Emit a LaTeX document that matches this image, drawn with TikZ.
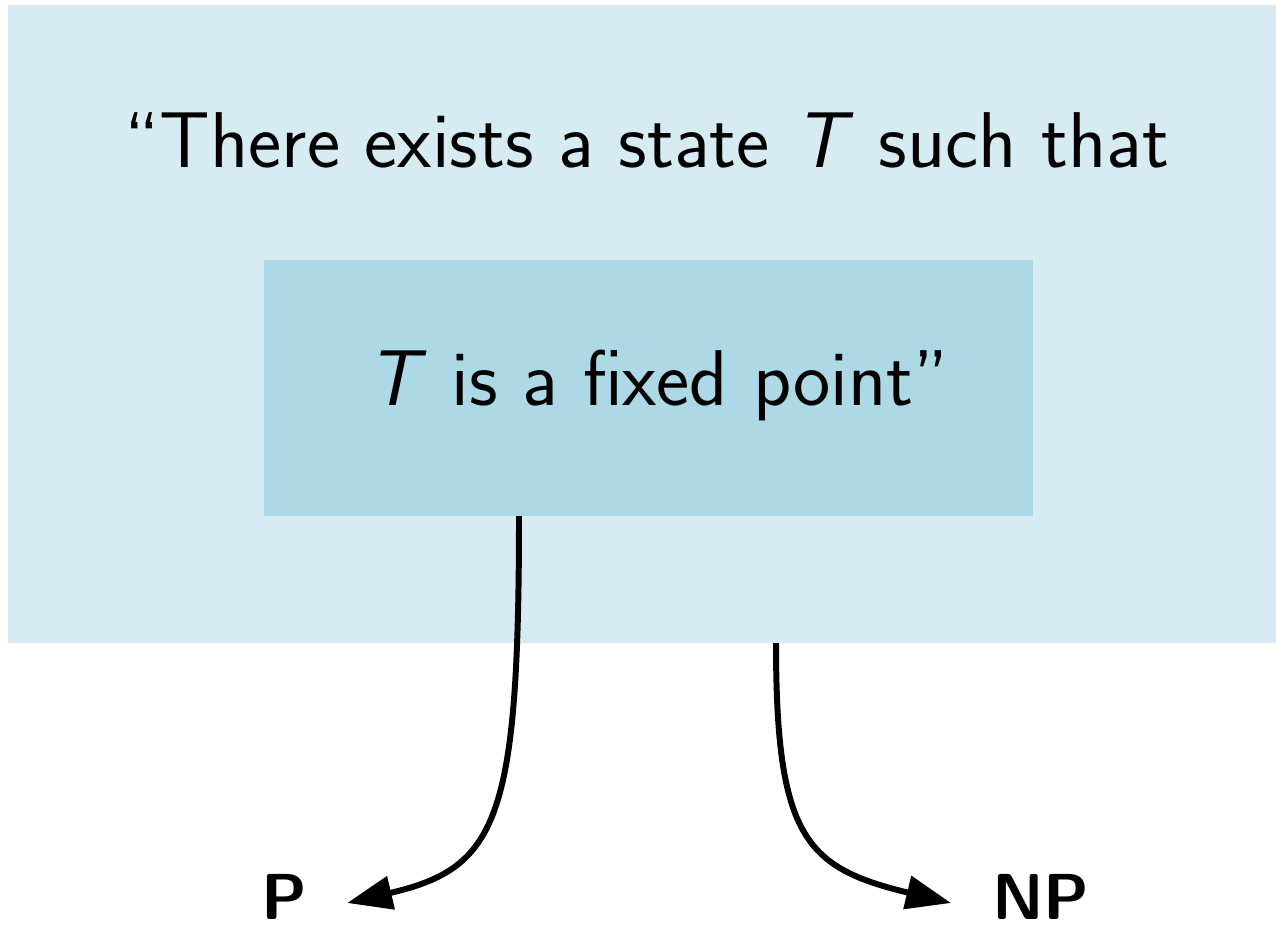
\documentclass[tikz,border=0pt]{standalone}
\usetikzlibrary{calc, positioning, arrows.meta}
\definecolor{boxOuter}{RGB}{214, 235, 242}
\definecolor{boxInner}{RGB}{173, 216, 230}

\begin{document}
\begin{tikzpicture}[
  region/.style={inner sep=0pt, outer sep=0pt},
  claim/.style={font=\sffamily\fontsize{45}{52}\selectfont},
  cls/.style={font=\sffamily\bfseries\fontsize{37}{44}\selectfont, inner sep=0pt},
  link/.style={-{Triangle[length=0.9cm, width=0.66cm]}, line width=3.4pt},
]
  \useasboundingbox (0,0) rectangle (25.52,18.52);

  % boxes
  \node[region, fill=boxOuter, minimum width=25.36cm, minimum height=12.76cm]
    (outer) at (12.84, 12.04) {};
  \node[region, fill=boxInner, minimum width=15.38cm, minimum height=5.12cm]
    (inner) at (12.96, 10.76) {};

  % texts
  \node[claim] (exists) at (12.94, 15.72) {``There exists a state \textit{T} such that};
  \node[claim] (fixed) at (13.16, 10.82) {\textit{T} is a fixed point''};

  % classes
  \node[cls] (p) at (5.68, 0.58) {P};
  \node[cls] (np) at (20.82, 0.58) {NP};

  \coordinate (from p) at ($(inner.south)+(-2.58,0)$);
  \coordinate (from np) at ($(outer.south)+(2.68,0)$);

  \draw[link] (from p) .. controls +(0,-6.1) and +(3.0,0.7) .. ([xshift=0.8cm, yshift=-0.12cm]p.east);
  \draw[link] (from np) .. controls +(0,-3.9) and +(-2.9,0.7) .. ([xshift=-0.82cm, yshift=-0.12cm]np.west);
\end{tikzpicture}
\end{document}
